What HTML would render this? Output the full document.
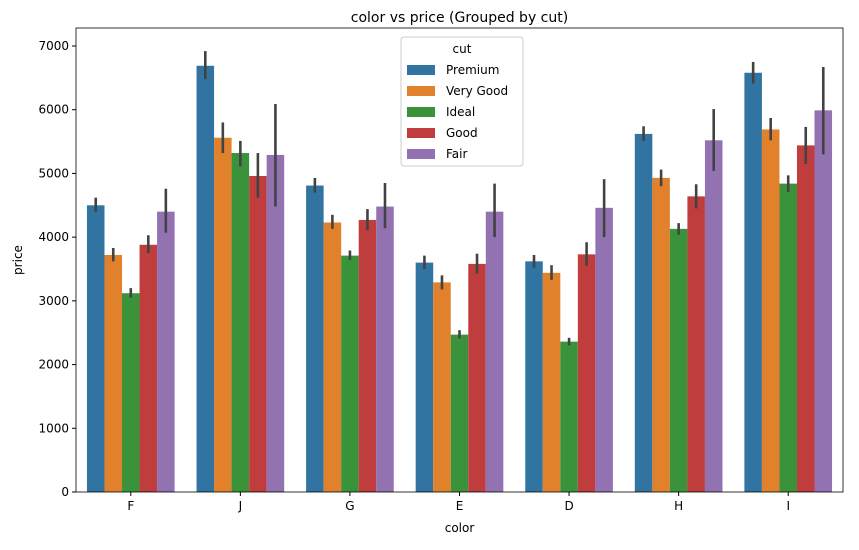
<!DOCTYPE html>
<html><head><meta charset="utf-8"><style>
body{margin:0;background:#fff;font-family:"Liberation Sans","DejaVu Sans",sans-serif}
svg text{font-family:"DejaVu Sans","Liberation Sans",sans-serif}
</style></head><body>
<svg id="chart" width="859" height="545" xmlns="http://www.w3.org/2000/svg"></svg>
<script>
const categories=["F","J","G","E","D","H","I"];
const series=["Premium","Very Good","Ideal","Good","Fair"];
const colors=["#3274a1","#e1812c","#3a923a","#c03d3e","#9372b2"];
const premium=[4500,6690,4810,3600,3620,5620,6580];
const veryGood=[3720,5560,4230,3290,3440,4930,5690];
const ideal=[3120,5320,3710,2470,2360,4130,4840];
const good=[3880,4960,4270,3580,3730,4640,5440];
const fair=[4400,5290,4480,4400,4460,5520,5990];
const errLow=[[4400,6480,4700,3500,3520,5510,6410],[3620,5320,4130,3180,3330,4800,5520],[3050,5110,3640,2410,2300,4040,4710],[3750,4620,4110,3430,3550,4450,5150],[4070,4480,4140,4000,4000,5040,5300]];
const errHigh=[[4620,6920,4930,3710,3720,5740,6750],[3830,5800,4350,3400,3560,5060,5870],[3200,5510,3790,2540,2420,4220,4970],[4030,5320,4440,3740,3920,4830,5730],[4760,6090,4850,4840,4910,6010,6670]];
const yTicks=[0,1000,2000,3000,4000,5000,6000,7000];
const values=[premium,veryGood,ideal,good,fair];
const L=76,R=843,T=28,B=492;
const NS="http://www.w3.org/2000/svg";
const svg=document.getElementById('chart');
function y(v){return B-v*(B-46)/7000;}
const band=(R-L)/categories.length;
function x(i){return L+band*(i+0.5);}
function mk(t,a,p){const e=document.createElementNS(NS,t);for(const k in a)e.setAttribute(k,a[k]);(p||svg).appendChild(e);return e;}
const bw=band*0.8/series.length;
series.forEach((s,si)=>{categories.forEach((c,ci)=>{
 const bx=x(ci)-band*0.4+si*bw;
 const r=mk('rect',{x:bx,y:y(values[si][ci]),width:bw,height:B-y(values[si][ci]),fill:colors[si]});
 
 
 const l=mk('line',{x1:bx+bw/2,x2:bx+bw/2,y1:y(errLow[si][ci]),y2:y(errHigh[si][ci]),stroke:'#424242','stroke-width':2.6});
 
 
});});
const frame=mk('rect',{x:L,y:T,width:R-L,height:B-T,fill:'none',stroke:'#000','stroke-width':0.8});


yTicks.forEach(v=>{mk('line',{x1:L-4,x2:L,y1:y(v),y2:y(v),stroke:'#000'});
 const t=mk('text',{x:L-7,y:y(v)+4,'text-anchor':'end','font-size':12});t.textContent=v;
 
 });
categories.forEach((c,i)=>{mk('line',{x1:x(i),x2:x(i),y1:B,y2:B+4,stroke:'#000'});
 const t=mk('text',{x:x(i),y:B+18,'text-anchor':'middle','font-size':12});t.textContent=c;
 
 });
let t=mk('text',{x:(L+R)/2,y:22,'text-anchor':'middle','font-size':14});t.textContent='color vs price (Grouped by cut)';


t=mk('text',{x:(L+R)/2,y:532,'text-anchor':'middle','font-size':12});t.textContent='color';


t=mk('text',{x:22,y:260,'text-anchor':'middle','font-size':12,transform:'rotate(-90 22 260)'});t.textContent='price';


const g=mk('g',{});


mk('rect',{x:401,y:37,width:122,height:129,rx:3,fill:'#fff','fill-opacity':0.85,stroke:'#ccc'},g);
t=mk('text',{x:462,y:53,'text-anchor':'middle','font-size':12},g);t.textContent='cut';
series.forEach((s,i)=>{const ey=70+i*21;
 const sw=mk('rect',{x:407,y:ey-5,width:28,height:10,fill:colors[i]},g);
 
 
 const lt=mk('text',{x:446,y:ey+4,'font-size':12},g);lt.textContent=s;
 
 });
</script>
</body></html>
